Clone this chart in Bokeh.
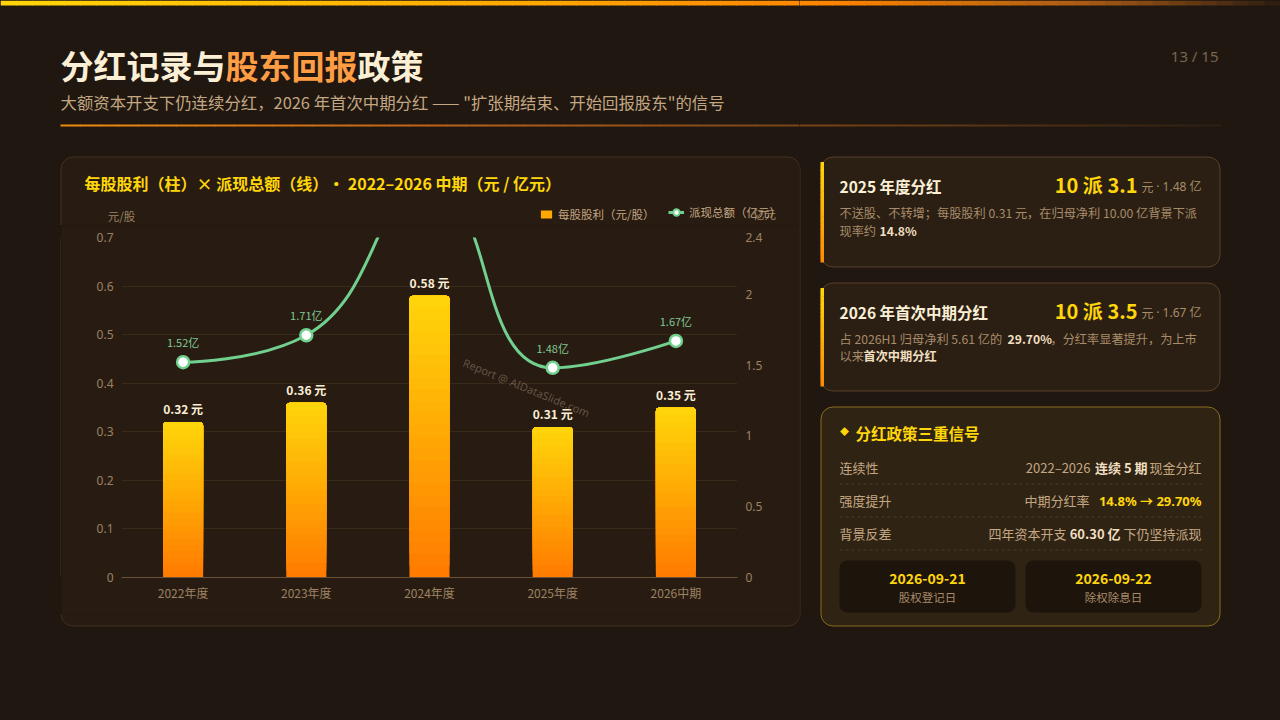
import math
from bokeh.plotting import figure
from bokeh.layouts import row, column
from bokeh.models import (Range1d, LinearAxis, FixedTicker, CustomJSTickFormatter, Label,
                          Legend, LegendItem)
from bokeh.core.properties import value
from bokeh.embed import file_html
from bokeh.resources import INLINE

# ---------------- data ----------------
periods = ["2022年度", "2023年度", "2024年度", "2025年度", "2026中期"]
dps = [0.32, 0.36, 0.58, 0.31, 0.35]          # 每股股利（元/股）
payout = [1.52, 1.71, 2.76, 1.48, 1.67]       # 派现总额（亿元）
left_ticks = [0, 0.1, 0.2, 0.3, 0.4, 0.5, 0.6, 0.7]
right_ticks = [0, 0.5, 1, 1.5, 2, 2.4]
left_max = 0.7
right_max = 2.4

# ---------------- style ----------------
CJK = "Noto Sans CJK SC"
LAT = "Noto Sans"
LATCJK = "'Noto Sans', 'Noto Sans CJK SC'"
BG = "#1f1710"
PANEL = "#281c12"
PANEL_LINE = "#45321f"
CARD = "#2b1f14"
CARD_LINE = "#5a4128"
CARD3 = "#2f2314"
CARD3_LINE = "#8c6d1e"
DATEBOX = "#1d140c"
TAN = "#c4a782"
TAN_DARK = "#a88c69"
TICK = "#9c8262"
CREAM = "#fbefd6"
CREAM2 = "#f0dfc0"
YELLOW = "#ffd60a"
ORANGE = "#ff9d45"
GREEN = "#72d08e"
GREEN_LBL = "#7fc993"
GRID = "#3a2a19"
BAR_TOP = "#ffd60a"
BAR_BOTTOM = "#ff7a00"
SEP = "#4e3c22"

PAGE_W, PAGE_H = 1280, 720
FL, FR, FT, FB = 121, 737, 237, 577     # plot frame edges (page px)
SPLIT_X = 799                           # left column | right column
HEAD_B = 225                            # bottom of left header block
CHART_B = 614                           # bottom of chart figure
PANEL_L = 61                            # left edge of chart figure
BAR_W = 0.325


def rgb(h):
    h = h.lstrip("#")
    return tuple(int(h[i:i + 2], 16) for i in (0, 2, 4))


def mix(c0, c1, t):
    a, b = rgb(c0), rgb(c1)
    return "#%02x%02x%02x" % tuple(round(x + (y - x) * t) for x, y in zip(a, b))


def grad(stops, t):
    for (t0, c0), (t1, c1) in zip(stops, stops[1:]):
        if t <= t1:
            return mix(c0, c1, (t - t0) / (t1 - t0) if t1 > t0 else 0)
    return stops[-1][1]


# ---------------- decorative figures (page pixel coordinates) ----------------
def deco_fig(x0, x1, y0, y1):
    f = figure(width=x1 - x0, height=y1 - y0, x_range=Range1d(x0, x1), y_range=Range1d(y1, y0),
               min_border=0, toolbar_location=None, output_backend="svg", title=None,
               x_axis_location=None, y_axis_location=None,
               border_fill_color=BG, background_fill_color=BG, outline_line_color=None)
    f.grid.visible = False
    add_shapes(f)
    return f


def hslices(f, X0, X1, Y0, Y1, stops, n):
    xs0 = [X0 + (X1 - X0) * i / n for i in range(n)]
    xs1 = [X0 + (X1 - X0) * (i + 1) / n + 0.6 for i in range(n)]
    cols = [grad(stops, (i + 0.5) / n) for i in range(n)]
    f.quad(left=xs0, right=xs1, top=[Y0] * n, bottom=[Y1] * n, fill_color=cols, line_color=None)


def vslices(f, X0, X1, Y0, Y1, stops, n):
    ys0 = [Y0 + (Y1 - Y0) * i / n for i in range(n)]
    ys1 = [Y0 + (Y1 - Y0) * (i + 1) / n + 0.6 for i in range(n)]
    cols = [grad(stops, (i + 0.5) / n) for i in range(n)]
    f.quad(left=[X0] * n, right=[X1] * n, top=ys0, bottom=ys1, fill_color=cols, line_color=None)


def add_shapes(f):
    # top gradient bar
    hslices(f, 0, PAGE_W, 0, 5,
            [(0, "#ffd60a"), (0.45, "#ffa200"), (0.65, "#ff8400"), (0.85, "#a85a14"), (1, "#2a1c12")], 80)
    # header divider
    hslices(f, 60, 1220, 124, 126, [(0, "#f08a10"), (0.3, "#c0661a"), (1, "#2c1f14")], 60)
    # chart panel
    f.quad(left=60.5, right=799.5, top=156.5, bottom=625.5, fill_color=PANEL,
           line_color=PANEL_LINE, line_width=1, border_radius=12)
    # cards 1 & 2
    for (y0, y1) in ((156.5, 266.5), (282.5, 390.5)):
        f.quad(left=820.5, right=1219.5, top=y0, bottom=y1, fill_color=CARD,
               line_color=CARD_LINE, line_width=1, border_radius=12)
        vslices(f, 820, 823.5, y0 + 5, y1 - 5, [(0, "#ffd60a"), (1, "#ff8a00")], 24)
    # card 3
    f.quad(left=820.5, right=1219.5, top=406.5, bottom=625.5, fill_color=CARD3,
           line_color=CARD3_LINE, line_width=1, border_radius=12)
    f.segment(x0=[839] * 3, x1=[1201] * 3, y0=[483.5, 516.5, 549.5], y1=[483.5, 516.5, 549.5],
              line_color=SEP, line_width=1, line_dash="3 3")
    f.quad(left=[839, 1025], right=[1015, 1201], top=[560, 560], bottom=[612, 612],
           fill_color=DATEBOX, line_color=None, border_radius=8)


def lab(f, text, X, Y, size, color, bold=False, align="left", base="middle", font=CJK):
    f.add_layout(Label(x=X, y=Y, text=text, text_font=font, text_font_size=f"{size}px",
                       text_color=color, text_font_style="bold" if bold else "normal",
                       text_align=align, text_baseline=base))


def legend_at(f, items, X, gw, gh):
    f.add_layout(Legend(items=items, location=(X, HEAD_B - 222), orientation="horizontal",
                        padding=0, margin=0, spacing=0, glyph_width=gw, glyph_height=gh,
                        label_standoff=5, label_text_font=CJK, label_text_font_size="11.5px",
                        label_text_color=TAN, background_fill_alpha=0, border_line_alpha=0))


# ---- left header block ----
LH = deco_fig(0, SPLIT_X, 0, HEAD_B)
lab(LH, "分红记录与", 60, 64, 33, CREAM, bold=True)
lab(LH, "股东回报", 225, 64, 33, ORANGE, bold=True)
lab(LH, "政策", 357, 64, 33, CREAM, bold=True)
lab(LH, "大额资本开支下仍连续分红，2026 年首次中期分红 —— \"扩张期结束、开始回报股东\"的信号",
    60, 101, 16.4, TAN)
lab(LH, "每股股利（柱）× 派现总额（线）• 2022–2026 中期（元 / 亿元）", 84, 182, 16, YELLOW, bold=True)
lab(LH, "元/股", 121, 215, 11.5, TICK, align="center")
lab(LH, "亿元", 764, 213, 11.5, TICK, align="center")
# legend swatches (renderers kept off-canvas; only their styles are shown in the legend)
key_bar = LH.vbar(x=[-999], top=[-999], bottom=[-1000], width=1, fill_color="#ffa800",
                  line_color=None)
key_line = LH.line(x=[-999, -998], y=[-999, -999], line_color=GREEN, line_width=3)
key_pt = LH.scatter(x=[-999], y=[-999], marker="circle", size=9, fill_color="white",
                    line_color=GREEN, line_width=2)
legend_at(LH, [LegendItem(label="每股股利（元/股）", renderers=[key_bar])], 539, 14, 10)
legend_at(LH, [LegendItem(label="派现总额（亿元）", renderers=[key_line, key_pt])], 668, 16, 20)

# ---- left pad and bottom block ----
LP = deco_fig(0, PANEL_L, HEAD_B, CHART_B)
LF = deco_fig(0, SPLIT_X, CHART_B, PAGE_H)

# ---- right column (cards) ----
R = deco_fig(SPLIT_X, PAGE_W, 0, PAGE_H)
lab(R, "13 / 15", 1218, 55, 15, "#7a6650", align="right", font=LAT)

lab(R, "2025 年度分红", 839, 185, 15.5, CREAM, bold=True)
lab(R, "10 派 3.1", 1137, 184, 20, YELLOW, bold=True, align="right")
lab(R, "元", 1141, 186, 12, TAN_DARK)
lab(R, "· 1.48 亿", 1201, 186, 12, TAN_DARK, align="right", font=LATCJK)
lab(R, "不送股、不转增；每股股利 0.31 元，在归母净利 10.00 亿背景下派", 839, 212, 12.2, TAN_DARK)
lab(R, "现率约", 839, 230, 12.2, TAN_DARK)
lab(R, "14.8%", 879, 230, 12.2, CREAM2, bold=True)

lab(R, "2026 年首次中期分红", 839, 311, 15.5, CREAM, bold=True)
lab(R, "10 派 3.5", 1137, 310, 20, YELLOW, bold=True, align="right")
lab(R, "元", 1141, 312, 12, TAN_DARK)
lab(R, "· 1.67 亿", 1201, 312, 12, TAN_DARK, align="right", font=LATCJK)
lab(R, "占 2026H1 归母净利 5.61 亿的", 839, 338, 12.2, TAN_DARK)
lab(R, "29.70%", 1007, 338, 12.2, CREAM2, bold=True)
lab(R, "，分红率显著提升，为上市", 1050, 338, 12.2, TAN_DARK)
lab(R, "以来", 839, 355, 12.2, TAN_DARK)
lab(R, "首次中期分红", 863, 355, 12.2, CREAM2, bold=True)

lab(R, "◆", 844, 431, 9, YELLOW, align="center")
lab(R, "分红政策三重信号", 855, 432, 15.5, YELLOW, bold=True)
lab(R, "连续性", 839, 467, 13, TAN)
lab(R, "现金分红", 1201, 467, 13, TAN, align="right")
lab(R, "连续 5 期", 1147, 467, 13, CREAM2, bold=True, align="right")
lab(R, "2022–2026", 1090, 467, 13, TAN, align="right")
lab(R, "强度提升", 839, 500, 13, TAN)
lab(R, "14.8% → 29.70%", 1201, 500, 13, YELLOW, bold=True, align="right", font=LATCJK)
lab(R, "中期分红率", 1089, 500, 13, TAN, align="right")
lab(R, "背景反差", 839, 533, 13, TAN)
lab(R, "下仍坚持派现", 1201, 533, 13, TAN, align="right")
lab(R, "60.30 亿", 1120, 533, 13, CREAM2, bold=True, align="right")
lab(R, "四年资本开支", 1066, 533, 13, TAN, align="right")
lab(R, "2026-09-21", 927, 578, 14, YELLOW, bold=True, align="center")
lab(R, "股权登记日", 927, 596, 11.5, TAN_DARK, align="center")
lab(R, "2026-09-22", 1113, 578, 14, YELLOW, bold=True, align="center")
lab(R, "除权除息日", 1113, 596, 11.5, TAN_DARK, align="center")

# ---------------- the chart ----------------
C = figure(width=SPLIT_X - PANEL_L, height=CHART_B - HEAD_B,
           x_range=Range1d(0, len(periods)), y_range=Range1d(0, left_max),
           output_backend="svg", toolbar_location=None, title=None,
           min_border_left=FL - PANEL_L, min_border_right=SPLIT_X - FR,
           min_border_top=FT - HEAD_B, min_border_bottom=CHART_B - FB,
           border_fill_color=PANEL, background_fill_color=PANEL, outline_line_color=None)
C.extra_y_ranges = {"right": Range1d(0, right_max)}

xc = [i + 0.5 for i in range(len(periods))]

C.xaxis.ticker = FixedTicker(ticks=xc)
C.xaxis.formatter = CustomJSTickFormatter(args=dict(labels=periods),
                                          code="return labels[Math.round(tick - 0.5)]")
C.xaxis.axis_line_color = "#6b5236"
C.xaxis.major_tick_line_color = None
C.xaxis.minor_tick_line_color = None
C.xaxis.major_tick_out = 0
C.xaxis.major_tick_in = 0
C.xaxis.major_label_text_color = TICK
C.xaxis.major_label_text_font = CJK
C.xaxis.major_label_text_font_size = "12px"
C.xaxis.major_label_standoff = 6

C.yaxis.ticker = FixedTicker(ticks=left_ticks)
C.yaxis.formatter = CustomJSTickFormatter(code="return String(tick)")
ra = LinearAxis(y_range_name="right", ticker=FixedTicker(ticks=right_ticks),
                formatter=CustomJSTickFormatter(code="return String(tick)"))
C.add_layout(ra, "right")
for ax in (C.yaxis[0], ra):
    ax.axis_line_color = None
    ax.major_tick_line_color = None
    ax.minor_tick_line_color = None
    ax.major_tick_out = 0
    ax.major_tick_in = 0
    ax.major_label_text_color = TICK
    ax.major_label_text_font = LAT
    ax.major_label_text_font_size = "12px"
    ax.major_label_standoff = 8

C.xgrid.visible = False
C.ygrid.ticker = FixedTicker(ticks=left_ticks)
C.ygrid.grid_line_color = GRID

C.add_layout(Label(x=526 - FL, y=FB - 387, x_units="screen", y_units="screen",
                   text="Report @ AIDataSlide.com", text_font=LAT, text_font_size="11px",
                   text_color="#8d7b69", text_alpha=0.6, text_align="center",
                   text_baseline="middle", angle=-0.39))

# bars: gradient from overlapping slices, each running from its start to the bar top
NS = 24
bx, bb, bt, bc = [], [], [], []
for k in range(NS):
    for x, v in zip(xc, dps):
        bx.append(x)
        bb.append(v * k / NS)
        bt.append(v)
        bc.append(mix(BAR_BOTTOM, BAR_TOP, (k + 0.5) / NS))
C.vbar(x=bx, bottom=bb, top=bt, width=BAR_W, fill_color=bc, line_color=None,
       border_radius=(4, 4, 0, 0))

C.text(x=xc, y=dps, text=[f"{v:.2f} 元" for v in dps], y_offset=-5,
       text_align="center", text_baseline="bottom", text_font=value(CJK),
       text_font_style="bold", text_font_size="12px", text_color=CREAM)


# smooth line (echarts-style smoothing through the data points)
def smooth_segments(xs, ys, kx, ky, s=0.5):
    P = [(x * kx, y * ky) for x, y in zip(xs, ys)]
    n = len(P)
    out = []
    c0 = P[0]
    for i in range(1, n):
        x, y = P[i]
        px, py = P[i - 1]
        if i == n - 1:
            c1 = (x, y)
            nc0 = (x, y)
        else:
            nx, ny = P[i + 1]
            vx, vy = nx - px, ny - py
            d0 = math.hypot(x - px, y - py)
            d1 = math.hypot(nx - x, ny - y)
            r = d1 / (d0 + d1)
            ncx = x + vx * s * r
            ncy = y + vy * s * r
            ncx = max(min(ncx, max(nx, x)), min(nx, x))
            ncy = max(min(ncy, max(ny, y)), min(ny, y))
            vx, vy = ncx - x, ncy - y
            c1x = x - vx * d0 / d1
            c1y = y - vy * d0 / d1
            c1x = max(min(c1x, max(px, x)), min(px, x))
            c1y = max(min(c1y, max(py, y)), min(py, y))
            vx, vy = x - c1x, y - c1y
            ncx = x + vx * d1 / d0
            ncy = y + vy * d1 / d0
            c1 = (c1x, c1y)
            nc0 = (ncx, ncy)
        out.append((P[i - 1], c0, c1, P[i]))
        c0 = nc0
    return [tuple((a[0] / kx, a[1] / ky) for a in seg) for seg in out]


kx = (FR - FL) / len(periods)
ky = (FB - FT) / right_max
segs = smooth_segments(xc, payout, kx, ky)
C.bezier(x0=[s[0][0] for s in segs], y0=[s[0][1] for s in segs],
         cx0=[s[1][0] for s in segs], cy0=[s[1][1] for s in segs],
         cx1=[s[2][0] for s in segs], cy1=[s[2][1] for s in segs],
         x1=[s[3][0] for s in segs], y1=[s[3][1] for s in segs],
         y_range_name="right", line_color=GREEN, line_width=3)

# points and labels that fall inside the right axis range (the 2024 peak runs off the top)
in_x = [x for x, v in zip(xc, payout) if v <= right_max]
in_v = [v for v in payout if v <= right_max]
C.scatter(x=in_x, y=in_v, y_range_name="right", marker="circle", size=12,
          fill_color="white", line_color=GREEN, line_width=2.5)
C.text(x=in_x, y=in_v, text=[f"{v:.2f}亿" for v in in_v], y_range_name="right", y_offset=-12,
       text_align="center", text_baseline="bottom", text_font=value(CJK),
       text_font_size="11px", text_color=GREEN_LBL)

page = row(column(LH, row(LP, C), LF), R)

html = file_html(page, INLINE, title="分红记录与股东回报政策")
html = html.replace("<head>", "<head><style>html,body{background:#1f1710;}</style>", 1)
open("out.html", "w", encoding="utf-8").write(html)
